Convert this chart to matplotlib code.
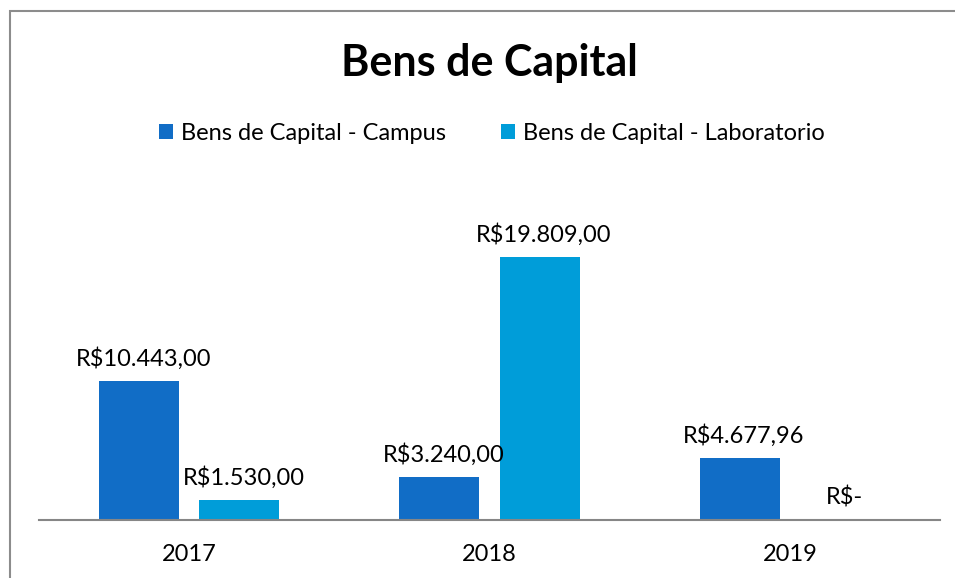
import matplotlib.pyplot as plt
from matplotlib.patches import Rectangle

plt.rcParams['font.family'] = ['Lato', 'DejaVu Sans']

years = ['2017', '2018', '2019']
campus = [10443.00, 3240.00, 4677.96]
laboratorio = [1530.00, 19809.00, 0.0]
campus_lbl = ['R$10.443,00', 'R$3.240,00', 'R$4.677,96']
lab_lbl = ['R$1.530,00', 'R$19.809,00', 'R$-']

c_campus = '#116DC6'
c_lab = '#009DD9'

fig = plt.figure(figsize=(9.55, 5.78), dpi=100)
ax = fig.add_axes([39 / 955, 1 - 520 / 578, 901 / 955, 332 / 578])

x = range(len(years))
w = 80 / 300
off = 50 / 300
b1 = ax.bar([i - off for i in x], campus, w, color=c_campus, label='Bens de Capital - Campus')
b2 = ax.bar([i + off for i in x], laboratorio, w, color=c_lab, label='Bens de Capital - Laboratorio')

for bars, lbls in ((b1, campus_lbl), (b2, lab_lbl)):
    for r, t in zip(bars, lbls):
        ax.annotate(t, (r.get_x() + r.get_width() / 2, r.get_height()),
                    xytext=(3, 8), textcoords='offset points',
                    ha='center', va='bottom', fontsize=17)

ax.set_xlim(-0.5, 2.5)
ax.set_ylim(0, 25000)
ax.set_xticks(list(x), years, fontsize=17)
ax.tick_params(axis='x', length=0, pad=17)
ax.set_yticks([])
for s in ('top', 'right', 'left'):
    ax.spines[s].set_visible(False)
ax.spines['bottom'].set_color('#868686')
ax.spines['bottom'].set_linewidth(1.5)

fig.text(489 / 955, 1 - 63 / 578, 'Bens de Capital', ha='center', va='center',
         fontsize=31, fontweight='bold')
fig.legend(loc='center', bbox_to_anchor=(492 / 955, 1 - 133 / 578), ncol=2,
           frameon=False, fontsize=17, handlelength=0.6, handleheight=0.6,
           handletextpad=0.35, columnspacing=2.3)

fig.patches.append(Rectangle((9.5 / 955, -0.1), 1.2, 1.1 - 11 / 578,
                             transform=fig.transFigure, fill=False,
                             edgecolor='#8c8c8c', linewidth=1.5))

fig.savefig('out.png', dpi=100)
